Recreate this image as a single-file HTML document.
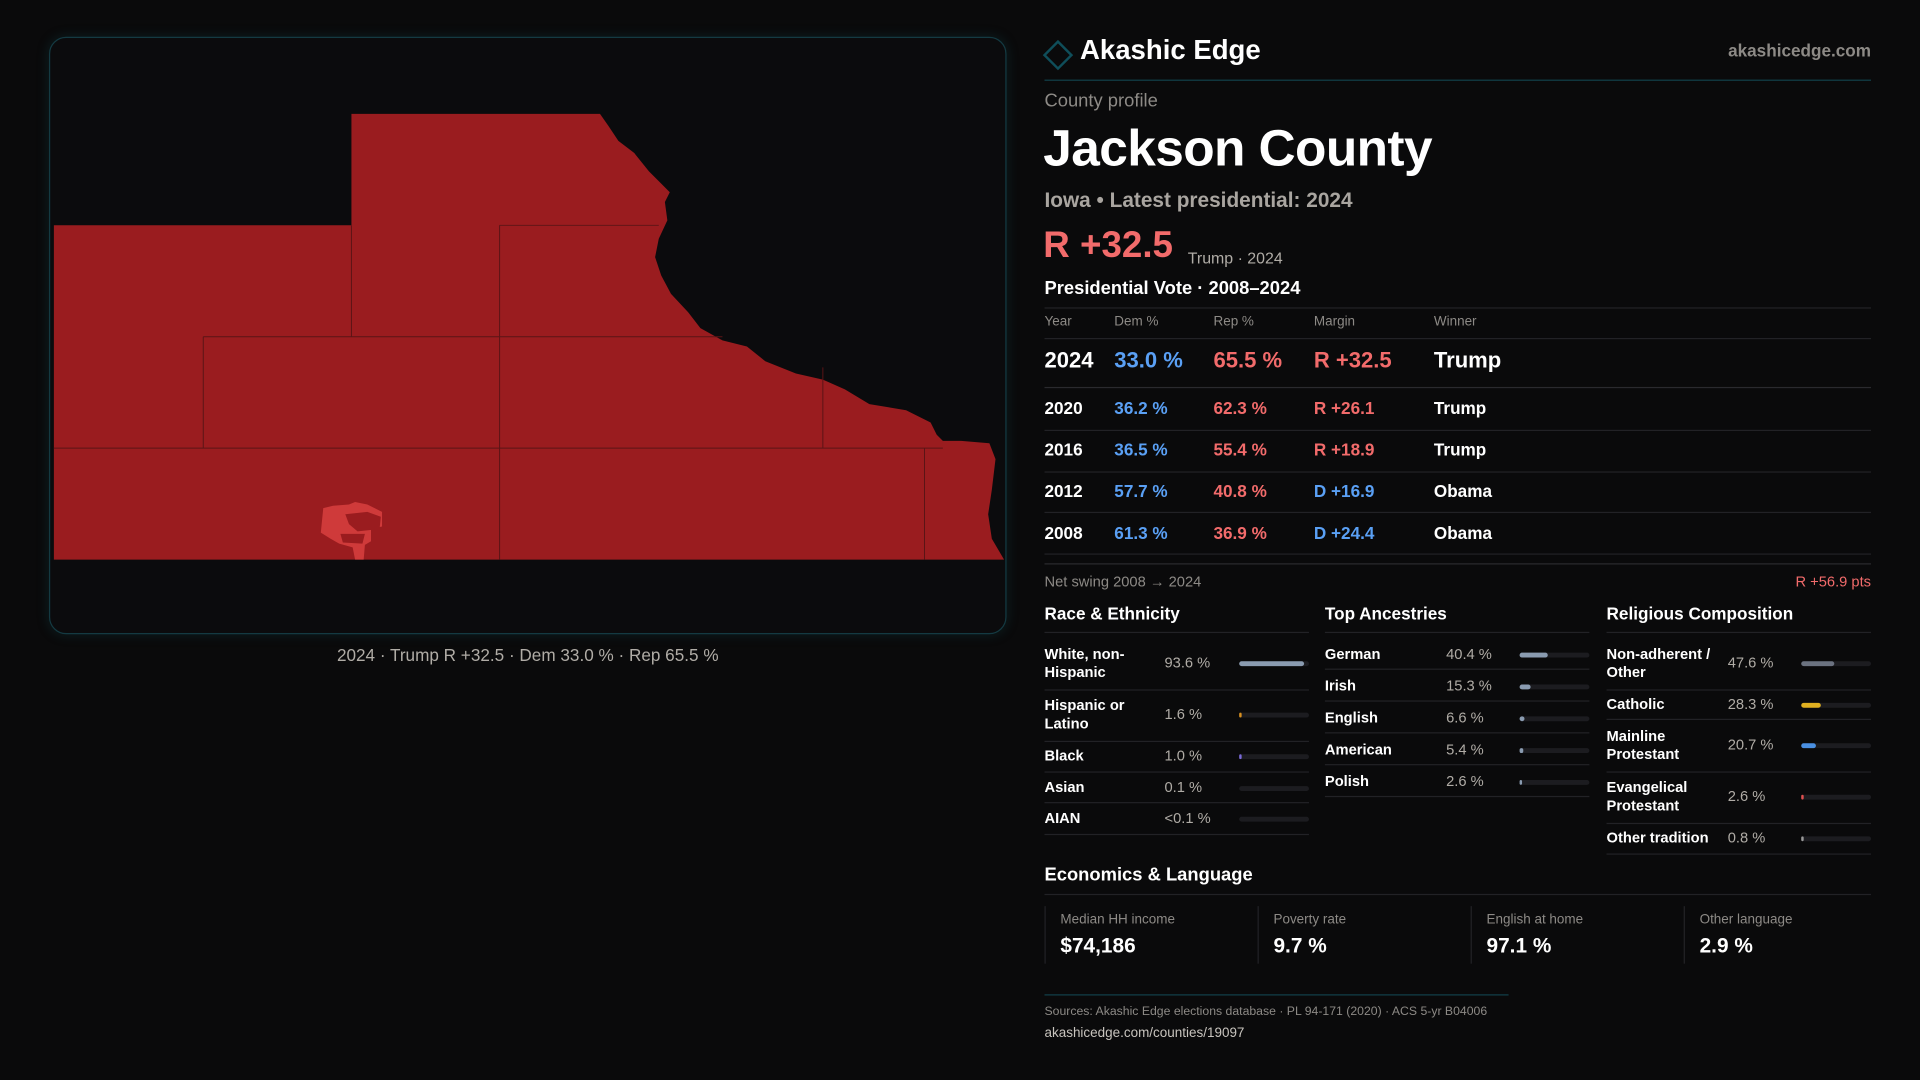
<!DOCTYPE html>
<html><head><meta charset="utf-8">
<style>
*{box-sizing:border-box;margin:0;padding:0}
html,body{width:1920px;height:1080px;background:#0a0a0b;overflow:hidden}
#wrap{position:absolute;left:0;top:0;width:1568px;height:882px;transform:scale(1.22449);transform-origin:0 0;font-family:"Liberation Sans",sans-serif;color:#fff}
.a{position:absolute;white-space:nowrap}
.hl{position:absolute;height:1px;background:#222226}
.g{color:#8d8a86}
.b{font-weight:bold}
.track{position:absolute;height:4px;border-radius:2px;background:#1c1c20}
.fill{position:absolute;left:0;top:0;height:4px;border-radius:2px}
</style></head><body>
<div id="wrap">
<div class="a" style="left:40px;top:30px;width:782px;height:488px;border:1px solid #143a42;border-radius:14px;background:#0b0b0d;box-shadow:0 0 10px rgba(20,90,100,0.25)"></div>
<svg class="a" style="left:0;top:0" width="1568" height="882">
<path fill="#9a1c1f" d="M44,184 L287,184 L287,93 L490,93 L497,103 L505,115 L518,125 L530,140 L540,150 L547,157 L543,165 L545,180 L538,195 L535,210 L540,225 L548,240 L562,255 L572,268 L590,278 L610,283 L625,295 L650,305 L672,310 L690,318 L710,330 L740,335 L760,345 L765,355 L770,360 L785,360 L808,362 L813,375 L810,400 L807,420 L810,440 L820,457 L44,457 Z"/>
<g stroke="#5a1416" stroke-width="0.8" fill="none">
<path d="M287,184 L287,275 M166,275 L590,275 M408,184 L408,457 M408,184 L538,184 M166,275 L166,366 M44,366 L755,366 M672,300 L672,366 M755,366 L755,457 M755,366 L770,366"/>
</g>
<path fill="#cf3a3a" d="M264,415 L272,413 L285,412 L290,410 L300,412 L312,418 L312,430 L303,432 L303,442 L298,445 L297,457 L290,457 L288,447 L277,444 L270,440 L262,435 Z"/>
<path fill="#9a1c1f" d="M282,420 L300,418 L311,422 L310,432 L292,434 L285,428 Z M278,436 L298,436 L296,444 L280,443Z"/>
</svg>
<div class="a g" style="left:40px;width:782px;text-align:center;top:527px;font-size:14px;color:#b0aca6">2024 · Trump R +32.5 · Dem 33.0 % · Rep 65.5 %</div>

<svg class="a" style="left:851px;top:32px" width="26" height="26"><path d="M13,2 L24,13 L13,24 L2,13 Z" fill="none" stroke="#0f4e5a" stroke-width="2"/></svg>
<div class="a b" style="left:882px;top:28px;font-size:22.5px">Akashic Edge</div>
<div class="a g b" style="right:40px;top:33px;font-size:14px">akashicedge.com</div>
<div class="hl" style="left:853px;top:65px;width:675px;background:#12404a"></div>
<div class="a g" style="left:853px;top:74px;font-size:15px">County profile</div>
<div class="a b" style="left:852px;top:97px;font-size:42px;letter-spacing:-0.5px">Jackson County</div>
<div class="a g b" style="left:853px;top:154px;font-size:17px;color:#a9a5a0">Iowa • Latest presidential: 2024</div>
<div class="a b" style="left:852px;top:184px;font-size:30px;color:#f26b6b">R +32.5</div>
<div class="a" style="left:970px;top:203px;font-size:13px;color:#b0aca6">Trump · 2024</div>
<div class="a b" style="left:853px;top:227px;font-size:15px">Presidential Vote · 2008–2024</div>
<div class="hl" style="left:853px;top:251px;width:675px"></div>
<div id="vt"></div>
<div class="hl" style="left:853px;top:460px;width:675px;background:#2a2a2e"></div>
<div class="a g" style="left:853px;top:468px;font-size:12px">Net swing 2008 → 2024</div>
<div class="a" style="right:40px;top:468px;font-size:12px;color:#f26b6b">R +56.9 pts</div>
<div id="demo"></div>
<div class="a b" style="left:853px;top:706px;font-size:15px">Economics &amp; Language</div>
<div class="hl" style="left:853px;top:730px;width:675px"></div>
<div id="econ"></div>
<div class="hl" style="left:853px;top:812px;width:379px;background:#12404a"></div>
<div class="a g" style="left:853px;top:821px;font-size:10px">Sources: Akashic Edge elections database · PL 94-171 (2020) · ACS 5-yr B04006</div>
<div class="a" style="left:853px;top:838px;font-size:11px;color:#c8c4be">akashicedge.com/counties/19097</div>
</div>
<script>
const years=["2024","2020","2016","2012","2008"];
const demPct=[33.0,36.2,36.5,57.7,61.3];
const repPct=[65.5,62.3,55.4,40.8,36.9];
const winners=["Trump","Trump","Trump","Obama","Obama"];
const raceLabels=["White, non-|Hispanic","Hispanic or|Latino","Black","Asian","AIAN"];
const raceVals=[93.6,1.6,1.0,0.1,0.05];
const raceText=["93.6 %","1.6 %","1.0 %","0.1 %","<0.1 %"];
const ancLabels=["German","Irish","English","American","Polish"];
const ancVals=[40.4,15.3,6.6,5.4,2.6];
const relLabels=["Non-adherent /|Other","Catholic","Mainline|Protestant","Evangelical|Protestant","Other tradition"];
const relVals=[47.6,28.3,20.7,2.6,0.8];
const econLabels=["Median HH income","Poverty rate","English at home","Other language"];
const econVals=["$74,186","9.7 %","97.1 %","2.9 %"];

function mk(parent,cls,style,text){const d=document.createElement('div');d.className=cls;d.style.cssText=style;if(text!==undefined)d.textContent=text;parent.appendChild(d);return d;}
const W=document.getElementById('wrap');
const cols=[853,910,991,1073,1171];
const hdr=["Year","Dem %","Rep %","Margin","Winner"];
hdr.forEach((h,i)=>{const e=mk(W,'a g',`left:${cols[i]}px;top:257px;font-size:11px`,h);

});
mk(W,'hl','left:853px;top:276px;width:675px');
const rowY=[295,333,367,401,435],lineY=[316,351,385,418,452];
years.forEach((y,i)=>{
 const fs=i===0?18:14, top=rowY[i]-fs*0.6;
 const m=repPct[i]-demPct[i];
 const mt=(m>=0?"R +":"D +")+Math.abs(m).toFixed(1);
 const vals=[y,demPct[i].toFixed(1)+" %",repPct[i].toFixed(1)+" %",mt,winners[i]];
 const colr=["#fff","#5aa0f5","#f26b6b",m>=0?"#f26b6b":"#5aa0f5","#fff"];
 vals.forEach((v,j)=>{const e=mk(W,'a b',`left:${cols[j]}px;top:${top}px;font-size:${fs}px;color:${colr[j]}`,v);
 
 });
 mk(W,'hl',`left:853px;top:${lineY[i]}px;width:675px;${i===0?'background:#2a2a2e':''}`);
});
function section(x,title,labels,vals,texts,rowYs,lineYs,colors,vx,name){
 const t=mk(W,'a b',`left:${x}px;top:493px;font-size:14px`,title);
 
 
 mk(W,'hl',`left:${x}px;top:516px;width:216px`);
 labels.forEach((lb,i)=>{
  const parts=lb.split('|');
  const y=rowYs[i];
  const lab=mk(W,'a b',`left:${x}px;top:${y-(parts.length-1)*7.5-7}px;font-size:12px;line-height:15px`,'');
  lab.innerHTML=parts.join('<br>');
  
  
  const v=mk(W,'a',`left:${vx}px;top:${y-7}px;font-size:12px;color:#b0aca6`,texts?texts[i]:vals[i].toFixed(1)+' %');
  
  
  const tr=mk(W,'track',`left:${x+159}px;top:${y-1}px;width:57px`);
  const w=vals[i]<0.5?0:Math.max(1.5,vals[i]/100*57);
  const f=mk(tr,'fill',`width:${w}px;background:${colors[i]}`);
  
  
  mk(W,'hl',`left:${x}px;top:${lineYs[i]}px;width:216px`);
 });
}
section(853,"Race & Ethnicity",raceLabels,raceVals,raceText,[541,583,617,643,668],[563,605,630,655,681],["#8a9bb0","#d89020","#7a6ad8","#8a9bb0","#8a9bb0"],951,'race');
section(1082,"Top Ancestries",ancLabels,ancVals,null,[534,560,586,612,638],[546,572,598,624,650],["#8a9bb0","#8a9bb0","#8a9bb0","#8a9bb0","#8a9bb0"],1181,'ancestry');
section(1312,"Religious Composition",relLabels,relVals,null,[541,575,608,650,684],[563,587,630,672,697],["#6b7280","#e0b020","#4a90e2","#e05050","#9a9a9a"],1411,'religion');
econLabels.forEach((lb,i)=>{
 const x=853+i*174;
 const c=mk(W,'a',`left:${x}px;top:740px;width:174px;height:47px;border-left:1px solid #222226`);
 
 
 mk(c,'a g',`left:12px;top:5px;font-size:11px`,lb);
 mk(c,'a b',`left:12px;top:23px;font-size:17px`,econVals[i]);
});
</script>
</body></html>
